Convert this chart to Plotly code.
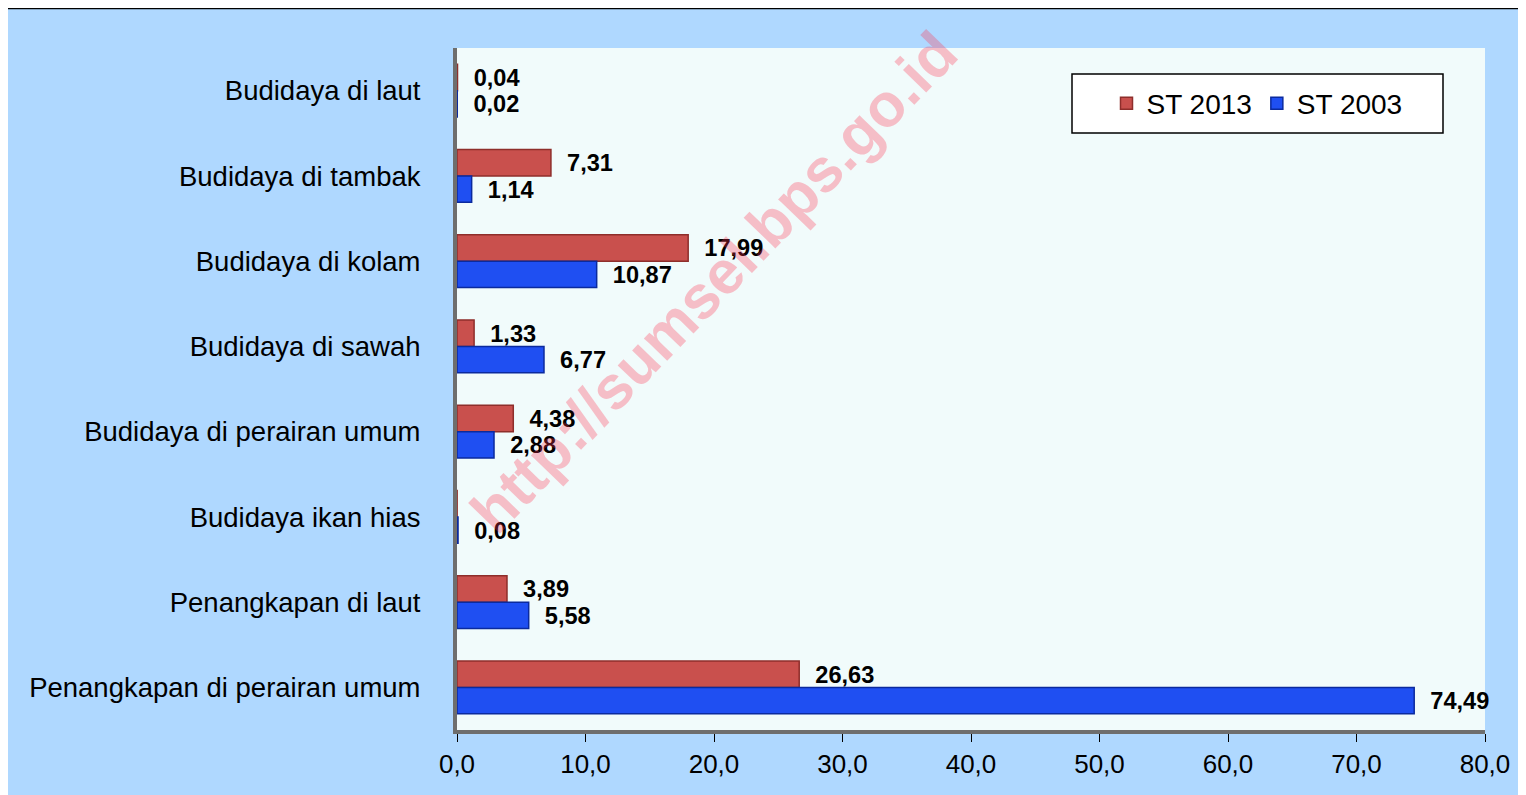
import plotly.graph_objects as go

categories = [
    'Budidaya di laut',
    'Budidaya di tambak',
    'Budidaya di kolam',
    'Budidaya di sawah',
    'Budidaya di perairan umum',
    'Budidaya ikan hias',
    'Penangkapan di laut',
    'Penangkapan di perairan umum',
]
st_2013 = [0.04, 7.31, 17.99, 1.33, 4.38, 0.01, 3.89, 26.63]
st_2003 = [0.02, 1.14, 10.87, 6.77, 2.88, 0.08, 5.58, 74.49]

# label text; the tiny 2013 ikan hias bar has no label in the source
labels_2013 = ['0,04', '7,31', '17,99', '1,33', '4,38', '', '3,89', '26,63']
labels_2003 = ['0,02', '1,14', '10,87', '6,77', '2,88', '0,08', '5,58', '74,49']

x_ticks = [0, 10, 20, 30, 40, 50, 60, 70, 80]

# screen pixel -> paper helpers (plot area 457..1485 x 48..730 on screen)
def px(x):
    return (x - 457) / 1028

def py(y):
    return (730 - y) / 682

label_font = dict(family='Liberation Sans, Arial', size=25, color='black', weight='bold')

fig = go.Figure()

fig.add_trace(go.Bar(
    y=categories,
    x=st_2013,
    name='ST 2013',
    orientation='h',
    marker=dict(color='#C9504D', line=dict(color='#8E2E2B', width=1.5)),
    text=labels_2013,
    texttemplate='  %{text}',
    textposition='outside',
    textfont=label_font,
    cliponaxis=False,
))

fig.add_trace(go.Bar(
    y=categories,
    x=st_2003,
    name='ST 2003',
    orientation='h',
    marker=dict(color='#1F4FF2', line=dict(color='#0B2A9E', width=1.5)),
    text=labels_2003,
    texttemplate='  %{text}',
    textposition='outside',
    textfont=label_font,
    cliponaxis=False,
))

# page body adds an 8px offset, so the figure starts at screen (8, 8)
fig.update_layout(
    width=1518,
    height=787,
    barmode='group',
    bargap=0.38,
    bargroupgap=0.0,
    separators=',.',
    paper_bgcolor='#AFD8FF',
    plot_bgcolor='#F1FBFB',
    font=dict(family='Liberation Sans, Arial', size=27, color='black'),
    margin=dict(l=449, r=41, t=40, b=65),
    showlegend=True,
    legend=dict(
        orientation='h',
        x=px(1257), y=py(103.5),
        xanchor='center', yanchor='middle',
        bgcolor='rgba(0,0,0,0)',
        font=dict(size=28),
        traceorder='normal',
    ),
    xaxis=dict(
        range=[0, 80],
        tickvals=x_ticks,
        tickformat='.1f',
        showgrid=False,
        zeroline=False,
        showline=True,
        linecolor='#6E6E6E',
        linewidth=4,
        ticks='outside',
        ticklen=8,
        tickcolor='black',
        tickfont=dict(size=26),
        automargin=False,
    ),
    yaxis=dict(
        autorange='reversed',
        showgrid=False,
        showline=True,
        linecolor='#6E6E6E',
        linewidth=4,
        ticks='',
        ticklabelstandoff=27,
        tickfont=dict(size=27.5),
        automargin=False,
    ),
    shapes=[
        # top border line of the chart area
        dict(type='line', xref='paper', yref='paper', layer='below',
             x0=px(8), x1=px(1530), y0=py(8.5), y1=py(8.5),
             line=dict(color='black', width=1.5)),
        # plot area background
        dict(type='rect', xref='paper', yref='paper', layer='below',
             x0=px(461), x1=px(1478), y0=py(724), y1=py(48),
             fillcolor='#F1FBFB', line=dict(width=0)),
        # legend box
        dict(type='rect', xref='paper', yref='paper', layer='below',
             x0=px(1072), x1=px(1443), y0=py(133), y1=py(74),
             fillcolor='white', line=dict(color='black', width=1.5)),
    ],
    annotations=[
        dict(text='http://sumsel.bps.go.id', xref='paper', yref='paper',
             x=px(714), y=py(282), xanchor='center', yanchor='middle',
             showarrow=False, textangle=-46,
             font=dict(family='Liberation Sans, Arial', size=61,
                       color='rgba(255,50,80,0.3)', weight='bold')),
    ],
)

fig.write_html('out.html')
